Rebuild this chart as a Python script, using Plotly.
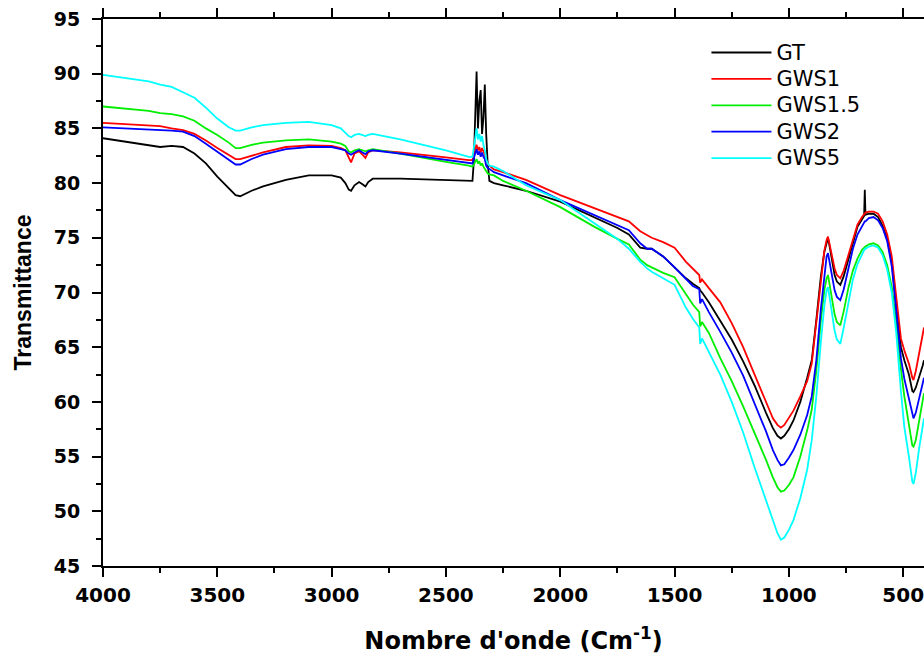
import plotly.graph_objects as go

wavenumber = [4000, 3900, 3800, 3750, 3700, 3650, 3600, 3550, 3500, 3450, 3420, 3400, 3350, 3300, 3200, 3100,
              3000, 2960, 2940, 2925, 2915, 2900, 2880, 2865, 2852, 2840, 2820, 2700, 2600, 2500, 2400,
              2384, 2378, 2372, 2366, 2360, 2354, 2348, 2342, 2336, 2330, 2324, 2318, 2310, 2290, 2250,
              2150, 2000, 1850, 1750, 1700, 1650, 1620, 1600, 1550, 1500, 1450, 1420, 1392, 1388, 1380,
              1350, 1300, 1250, 1200, 1150, 1100, 1070, 1050, 1035, 1020, 1000, 980, 950, 920, 900, 880,
              860, 845, 835, 829, 820, 800, 790, 775, 760, 740, 720, 700, 680, 671, 668, 665, 650, 630,
              610, 590, 570, 550, 530, 510, 495, 475, 460, 455, 445, 430, 415, 409]

GT = [84.1, 83.8, 83.5, 83.3, 83.4, 83.3, 82.7, 81.8, 80.6, 79.5, 78.9, 78.8, 79.3, 79.7, 80.3, 80.7,
      80.7, 80.5, 80.0, 79.4, 79.3, 79.8, 80.1, 79.9, 79.7, 80.1, 80.4, 80.4, 80.35, 80.3, 80.2,
      80.2, 82.0, 87.0, 90.2, 85.0, 87.5, 88.5, 84.5, 86.0, 89.0, 84.5, 82.0, 80.2, 80.0, 79.8,
      79.3, 78.3, 76.9, 75.9, 75.3, 74.1, 74.0, 74.0, 73.3, 72.3, 71.3, 70.8, 70.4, 70.2, 70.0,
      69.1, 67.4, 65.7, 63.7, 61.5, 59.0, 57.6, 56.9, 56.65, 56.9, 57.5, 58.3, 60.0, 62.2, 63.8, 67.5,
      71.5, 73.7, 74.7, 75.0, 74.0, 71.6, 71.0, 70.7, 71.5, 73.0, 74.7, 76.0, 76.7, 77.0, 79.4, 77.1, 77.2, 77.2,
      76.9, 76.1, 74.9, 72.8, 68.8, 65.0, 63.8, 62.5, 61.0, 60.9, 61.3, 62.2, 63.3, 63.8]

GWS1 = [85.5, 85.4, 85.3, 85.2, 85.0, 84.85, 84.5, 83.9, 83.2, 82.6, 82.2, 82.2, 82.5, 82.8, 83.3, 83.45,
        83.4, 83.2, 83.0, 82.3, 81.9, 82.7, 82.9, 82.6, 82.3, 82.8, 83.0, 82.8, 82.6, 82.35, 82.1,
        82.1, 82.6, 83.2, 83.5, 83.0, 83.3, 82.8, 83.2, 82.9, 82.6, 82.0, 81.7, 81.6, 81.25, 81.0,
        80.3, 78.9, 77.7, 76.9, 76.5, 75.6, 75.2, 75.0, 74.6, 74.1, 72.8, 72.2, 71.6, 70.9, 71.2,
        70.4, 69.1, 67.2, 65.0, 62.5, 59.9, 58.5, 57.9, 57.65, 57.9, 58.5, 59.2, 60.5, 61.9, 63.5, 67.2,
        71.5, 73.8, 74.8, 75.1, 74.2, 72.2, 71.6, 71.3, 72.0, 73.4, 75.0, 76.2, 76.9, 77.2, 77.3, 77.3, 77.4, 77.4,
        77.2, 76.5, 75.3, 73.3, 69.5, 65.8, 64.7, 63.5, 62.2, 62.0, 62.8, 64.5, 66.3, 66.8]

GWS1_5 = [87.0, 86.8, 86.6, 86.4, 86.3, 86.1, 85.7, 85.0, 84.4, 83.7, 83.2, 83.2, 83.5, 83.7, 83.9, 84.0,
          83.8, 83.6, 83.4, 82.9, 82.8, 83.0, 83.1, 83.0, 82.9, 83.0, 83.1, 82.7, 82.3, 81.95, 81.6,
          81.5, 81.7, 82.0, 82.2, 81.8, 82.0, 81.6, 81.8, 81.5, 81.3, 81.0, 80.9, 80.8, 80.7, 80.2,
          79.3, 77.8, 76.0, 74.9, 74.4, 73.0, 72.5, 72.3, 71.8, 71.4, 69.8, 68.9, 68.2, 66.9, 67.3,
          66.3, 64.0, 61.9, 59.6, 57.2, 54.7, 53.1, 52.2, 51.8, 51.9, 52.4, 53.1, 55.0, 57.4, 59.3, 62.9,
          67.5, 70.2, 71.3, 71.6, 70.5, 68.0, 67.3, 67.0, 68.3, 70.4, 72.0, 73.1, 73.9, 74.1, 74.2, 74.2, 74.4, 74.5,
          74.3, 73.7, 72.5, 70.5, 67.3, 63.0, 60.5, 58.0, 56.0, 55.9, 56.5, 58.3, 60.3, 60.8]

GWS2 = [85.1, 85.0, 84.95, 84.9, 84.8, 84.7, 84.3, 83.6, 82.9, 82.2, 81.7, 81.7, 82.2, 82.6, 83.1, 83.3,
        83.3, 83.1, 83.0, 82.7, 82.6, 82.8, 83.0, 82.8, 82.65, 82.9, 83.0, 82.7, 82.4, 82.1, 81.8,
        81.8, 82.3, 82.8, 83.1, 82.6, 82.9, 82.4, 82.8, 82.4, 82.2, 81.6, 81.4, 81.3, 81.0, 80.7,
        80.0, 78.45, 77.1, 76.2, 75.7, 74.5, 74.0, 74.0, 73.3, 72.3, 71.2, 70.6, 70.3, 69.0, 69.4,
        68.2, 66.4, 64.5, 62.4, 59.9, 57.3, 55.6, 54.7, 54.2, 54.3, 54.9, 55.6, 57.0, 58.8, 60.5, 63.8,
        68.5, 71.8, 73.3, 73.6, 72.5, 70.2, 69.6, 69.3, 70.3, 72.3, 74.0, 75.3, 76.1, 76.4, 76.5, 76.5, 76.8, 76.9,
        76.6, 75.9, 74.7, 72.4, 68.5, 64.0, 62.1, 60.3, 58.7, 58.5, 59.0, 60.3, 61.7, 62.2]

GWS5 = [89.9, 89.6, 89.3, 89.0, 88.8, 88.3, 87.8, 86.9, 85.9, 85.1, 84.8, 84.8, 85.1, 85.3, 85.5, 85.6,
        85.3, 85.0, 84.6, 84.3, 84.2, 84.4, 84.5, 84.4, 84.3, 84.4, 84.5, 84.0, 83.5, 83.0, 82.4,
        82.4, 83.2, 84.2, 85.0, 84.0, 84.5, 83.8, 84.3, 83.5, 83.0, 82.2, 81.8, 81.6, 81.5, 81.1,
        79.8, 78.45, 76.3, 74.9, 74.0, 72.8, 72.2, 71.9, 71.3, 70.7, 68.6, 67.6, 66.8, 65.3, 65.8,
        64.6, 62.5, 60.0, 57.2, 54.0, 50.9, 49.2, 48.0, 47.4, 47.6, 48.3, 49.2, 51.2, 53.8, 56.5, 60.5,
        65.5, 68.8, 70.2, 70.5, 69.3, 66.5, 65.7, 65.3, 66.8, 69.1, 71.2, 72.6, 73.5, 73.9, 74.0, 74.0, 74.2, 74.3,
        74.1, 73.4, 72.1, 70.0, 66.2, 61.0, 57.7, 55.0, 52.7, 52.5, 53.5, 55.8, 57.8, 58.5]

series_names = ["GT", "GWS1", "GWS1.5", "GWS2", "GWS5"]
series_values = [GT, GWS1, GWS1_5, GWS2, GWS5]
series_colors = ["#000000", "#FF0000", "#00EE00", "#0000FF", "#00FFFF"]

x_ticks = [4000, 3500, 3000, 2500, 2000, 1500, 1000, 500]
y_ticks = [45, 50, 55, 60, 65, 70, 75, 80, 85, 90, 95]

ARIAL = "Liberation Sans, Arial, sans-serif"
WIDE = "DejaVu Sans, sans-serif"

fig = go.Figure()
for name, vals, col in zip(series_names, series_values, series_colors):
    fig.add_trace(go.Scatter(x=wavenumber, y=vals, mode="lines",
                             name='<span style="font-size:21px">' + name + '</span>',
                             line=dict(color=col, width=1.8)))

axis_common = dict(
    showline=True, linecolor="black", linewidth=2,
    ticks="outside", ticklen=9, tickwidth=2, tickcolor="black",
    showgrid=False, zeroline=False,
)

fig.update_xaxes(
    range=[4000, 409], tickmode="array", tickvals=x_ticks,
    ticktext=[str(v) for v in x_ticks], mirror="ticks",
    minor=dict(dtick=250, tick0=0, ticklen=5, tickwidth=2, tickcolor="black", ticks="outside"),
    ticklabelstandoff=1, ticklabeloverflow="allow",
    tickfont=dict(family=WIDE, size=20, color="black", weight="bold"),
    title=dict(text="Nombre d'onde (Cm<sup>-1</sup>)", standoff=26,
               font=dict(family=WIDE, size=24, color="black", weight="bold")),
    **axis_common,
)
fig.update_yaxes(
    range=[45, 95], tickmode="array", tickvals=y_ticks,
    ticktext=[str(v) for v in y_ticks], mirror=False,
    minor=dict(dtick=2.5, tick0=0, ticklen=5, tickwidth=2, tickcolor="black", ticks="outside"),
    ticklabelstandoff=8,
    tickfont=dict(family=WIDE, size=19, color="black", weight="bold"),
    title=dict(text="Transmittance", standoff=16,
               font=dict(family=ARIAL, size=23, color="black", weight="bold")),
    **axis_common,
)

fig.update_layout(
    width=924, height=657,
    margin=dict(l=103, r=0, t=19, b=91),
    plot_bgcolor="white", paper_bgcolor="white",
    legend=dict(x=0.735, y=0.972, xanchor="left", yanchor="top",
                bgcolor="rgba(0,0,0,0)", borderwidth=0,
                font=dict(family=WIDE, size=18, color="black"),
                itemwidth=60, tracegroupgap=0),
    showlegend=True,
)

fig.write_html("out.html")
